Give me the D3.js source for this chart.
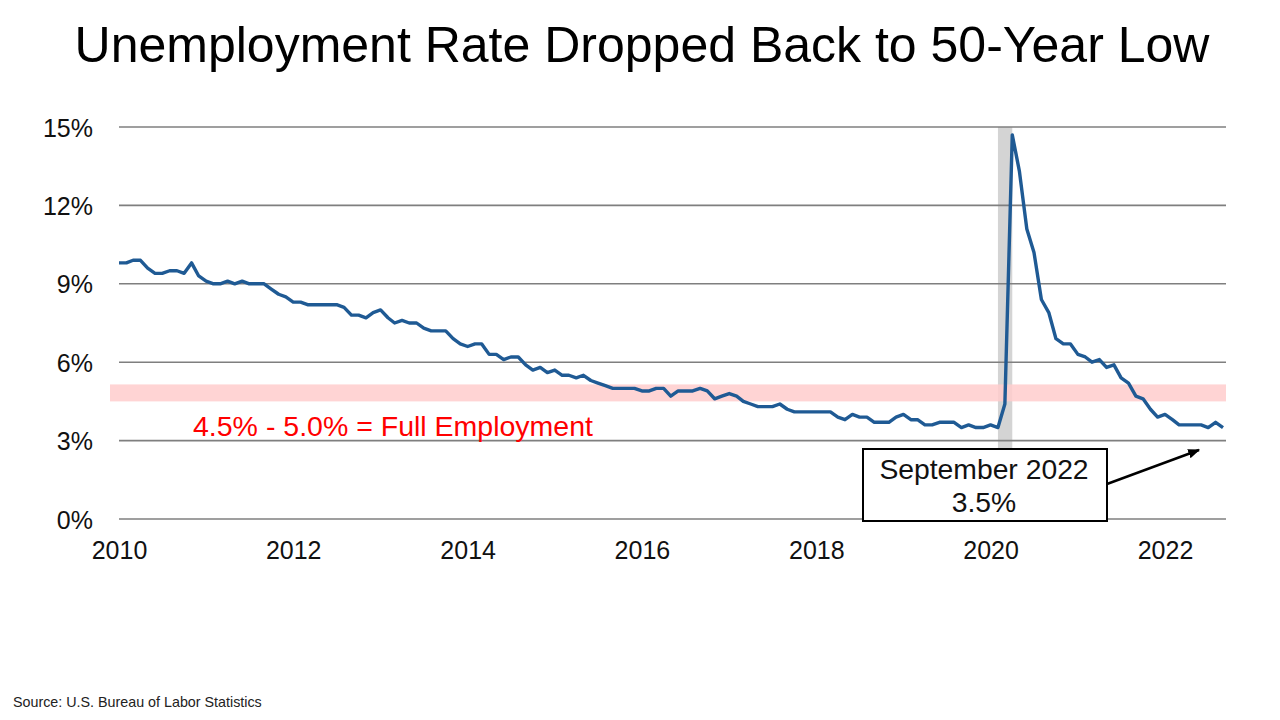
<!DOCTYPE html>
<html>
<head>
<meta charset="utf-8">
<script src="https://cdn.jsdelivr.net/npm/d3@7"></script>
<style>
  html, body { margin: 0; padding: 0; background: #fff; }
  svg { display: block; font-family: "Liberation Sans", Arial, sans-serif; }
</style>
</head>
<body>
<svg id="chart" width="1280" height="720"></svg>
<script>
// ---- Data (monthly U.S. unemployment rate, %) ----
const rates2010 = [9.8, 9.8, 9.9, 9.9, 9.6, 9.4, 9.4, 9.5, 9.5, 9.4, 9.8, 9.3];
const rates2011 = [9.1, 9.0, 9.0, 9.1, 9.0, 9.1, 9.0, 9.0, 9.0, 8.8, 8.6, 8.5];
const rates2012 = [8.3, 8.3, 8.2, 8.2, 8.2, 8.2, 8.2, 8.1, 7.8, 7.8, 7.7, 7.9];
const rates2013 = [8.0, 7.7, 7.5, 7.6, 7.5, 7.5, 7.3, 7.2, 7.2, 7.2, 6.9, 6.7];
const rates2014 = [6.6, 6.7, 6.7, 6.3, 6.3, 6.1, 6.2, 6.2, 5.9, 5.7, 5.8, 5.6];
const rates2015 = [5.7, 5.5, 5.5, 5.4, 5.5, 5.3, 5.2, 5.1, 5.0, 5.0, 5.0, 5.0];
const rates2016 = [4.9, 4.9, 5.0, 5.0, 4.7, 4.9, 4.9, 4.9, 5.0, 4.9, 4.6, 4.7];
const rates2017 = [4.8, 4.7, 4.5, 4.4, 4.3, 4.3, 4.3, 4.4, 4.2, 4.1, 4.1, 4.1];
const rates2018 = [4.1, 4.1, 4.1, 3.9, 3.8, 4.0, 3.9, 3.9, 3.7, 3.7, 3.7, 3.9];
const rates2019 = [4.0, 3.8, 3.8, 3.6, 3.6, 3.7, 3.7, 3.7, 3.5, 3.6, 3.5, 3.5];
const rates2020 = [3.6, 3.5, 4.4, 14.7, 13.3, 11.1, 10.2, 8.4, 7.9, 6.9, 6.7, 6.7];
const rates2021 = [6.3, 6.2, 6.0, 6.1, 5.8, 5.9, 5.4, 5.2, 4.7, 4.6, 4.2, 3.9];
const rates2022 = [4.0, 3.8, 3.6, 3.6, 3.6, 3.6, 3.5, 3.7, 3.5];

const years = [2010, 2011, 2012, 2013, 2014, 2015, 2016, 2017, 2018, 2019, 2020, 2021, 2022];
const yearlyRates = [rates2010, rates2011, rates2012, rates2013, rates2014, rates2015, rates2016,
                     rates2017, rates2018, rates2019, rates2020, rates2021, rates2022];

const yTicks = [0, 3, 6, 9, 12, 15];
const xTickYears = [2010, 2012, 2014, 2016, 2018, 2020, 2022];
const fullEmploymentBand = [4.5, 5.15];
const recession = [new Date(2020, 1, 1), new Date(2020, 3, 1)];

const titleText = "Unemployment Rate Dropped Back to 50-Year Low";
const bandLabel = "4.5% - 5.0% = Full Employment";
const calloutLines = ["September 2022", "3.5%"];
const sourceText = "Source: U.S. Bureau of Labor Statistics";

// ---- Build series ----
const series = [];
years.forEach((yr, i) => {
  yearlyRates[i].forEach((v, m) => series.push({ date: new Date(yr, m, 1), value: v }));
});

const svg = d3.select("#chart");
svg.append("rect").attr("width", 1280).attr("height", 720).attr("fill", "#fff");

const x = d3.scaleTime()
  .domain([series[0].date, series[series.length - 1].date])
  .range([119, 1223]);
const y = d3.scaleLinear().domain([0, 15]).range([519, 127]);

const gridLeft = 119, gridRight = 1226;

// Recession shading
svg.append("rect")
  .attr("x", x(recession[0]))
  .attr("width", x(recession[1]) - x(recession[0]))
  .attr("y", y(15))
  .attr("height", y(0) - y(15))
  .attr("fill", "#d4d4d4");

// Gridlines
svg.append("g").selectAll("line").data(yTicks).join("line")
  .attr("x1", gridLeft).attr("x2", gridRight)
  .attr("y1", d => y(d)).attr("y2", d => y(d))
  .attr("stroke", "#7f7f7f").attr("stroke-width", 1.6);

// Full employment band
svg.append("rect")
  .attr("x", 110)
  .attr("width", gridRight - 110)
  .attr("y", y(fullEmploymentBand[1]))
  .attr("height", y(fullEmploymentBand[0]) - y(fullEmploymentBand[1]))
  .attr("fill", "#ffcccc")
  .attr("opacity", 0.85);

// Y axis labels
const yAxis = d3.axisLeft(y).tickValues(yTicks).tickSize(0).tickPadding(0).tickFormat(d => d + "%");
const yG = svg.append("g").attr("transform", "translate(93,1)").call(yAxis);
yG.select(".domain").remove();
yG.selectAll("text").attr("font-size", 25).attr("fill", "#111")
  .attr("font-family", '"Liberation Sans", Arial, sans-serif');

// X axis labels
const xAxis = d3.axisBottom(x)
  .tickValues(xTickYears.map(yr => new Date(yr, 0, 1)))
  .tickSize(0).tickPadding(0)
  .tickFormat(d3.timeFormat("%Y"));
const xG = svg.append("g").attr("transform", "translate(0,541)").call(xAxis);
xG.select(".domain").remove();
xG.selectAll("text").attr("font-size", 25).attr("fill", "#111")
  .attr("font-family", '"Liberation Sans", Arial, sans-serif');

// Line
const line = d3.line().x(d => x(d.date)).y(d => y(d.value));
svg.append("path").datum(series)
  .attr("d", line)
  .attr("fill", "none")
  .attr("stroke", "#1f5a94")
  .attr("stroke-width", 3.4)
  .attr("stroke-linejoin", "round");

// Band label
svg.append("text")
  .attr("x", 193).attr("y", 436)
  .attr("font-size", 28.5).attr("fill", "#ff0000")
  .text(bandLabel);

// Callout
svg.append("defs").append("marker")
  .attr("id", "arrow").attr("viewBox", "0 0 10 10")
  .attr("refX", 9).attr("refY", 5)
  .attr("markerWidth", 5).attr("markerHeight", 5)
  .attr("orient", "auto")
  .append("path").attr("d", "M0,1 L10,5 L0,9 Z").attr("fill", "#000");

svg.append("line")
  .attr("x1", 1107).attr("y1", 484)
  .attr("x2", 1199).attr("y2", 450)
  .attr("stroke", "#000").attr("stroke-width", 2.4)
  .attr("marker-end", "url(#arrow)");

svg.append("rect")
  .attr("x", 863).attr("y", 449).attr("width", 244).attr("height", 72)
  .attr("fill", "#fff").attr("stroke", "#000").attr("stroke-width", 2);

svg.append("g").selectAll("text").data(calloutLines).join("text")
  .attr("x", 984).attr("y", (d, i) => 479 + i * 33)
  .attr("text-anchor", "middle")
  .attr("font-size", 28.3).attr("fill", "#111")
  .text(d => d);

// Title
svg.append("text")
  .attr("x", 642).attr("y", 62)
  .attr("text-anchor", "middle")
  .attr("font-size", 50).attr("fill", "#000")
  .text(titleText);

// Source
svg.append("text")
  .attr("x", 13).attr("y", 707)
  .attr("font-size", 14.3).attr("fill", "#222")
  .text(sourceText);
</script>
</body>
</html>
